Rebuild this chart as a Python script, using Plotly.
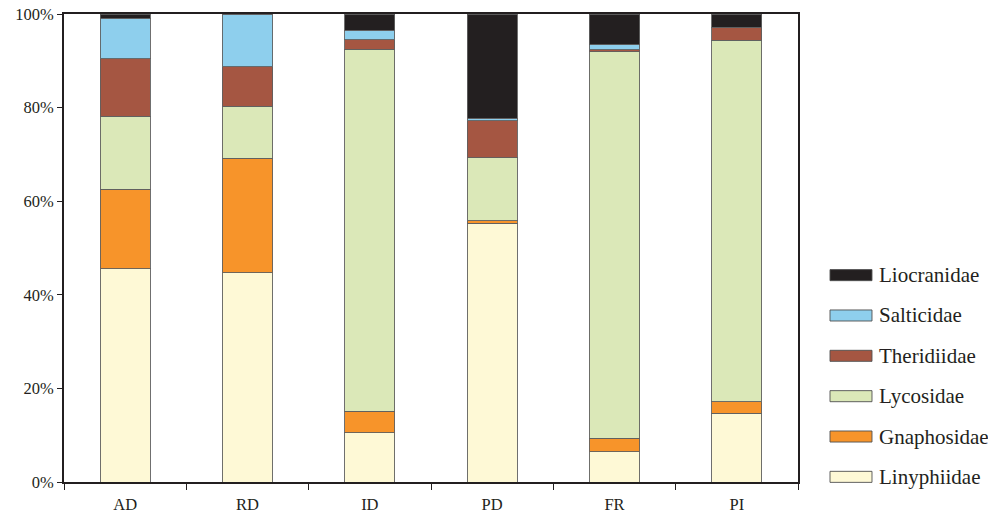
import plotly.graph_objects as go

sites = ["AD", "RD", "ID", "PD", "FR", "PI"]

# percentage of each family per site (stack order bottom -> top)
linyphiidae = [45.6, 44.7, 10.5, 55.3, 6.5, 14.7]
gnaphosidae = [17.0, 24.5, 4.6, 0.5, 2.8, 2.5]
lycosidae = [15.6, 11.1, 77.4, 13.5, 82.6, 77.2]
theridiidae = [12.2, 8.4, 2.0, 7.9, 0.5, 2.8]
salticidae = [8.7, 11.3, 2.0, 0.5, 1.0, 0.0]
liocranidae = [0.9, 0.0, 3.5, 22.3, 6.6, 2.8]

families = ["Linyphiidae", "Gnaphosidae", "Lycosidae", "Theridiidae", "Salticidae", "Liocranidae"]
values = [linyphiidae, gnaphosidae, lycosidae, theridiidae, salticidae, liocranidae]
colors = ["#fef9d6", "#f7942a", "#dbe8b8", "#a55642", "#8ecfed", "#231f20"]

FONT = "Times New Roman, Liberation Serif, serif"

fig = go.Figure()
for name, vals, col in zip(families, values, colors):
    fig.add_trace(go.Bar(
        x=sites, y=vals, name=name,
        marker=dict(color=col, line=dict(color="rgba(95,95,95,0.9)", width=1)),
        showlegend=False,
    ))

# legend drawn as swatches + labels on the right, top entry = top of stack
legend_top = 0.442
step = 0.0862
for i, (name, col) in enumerate(zip(families[::-1], colors[::-1])):
    yc = legend_top - i * step
    fig.add_shape(type="rect", xref="paper", yref="paper",
                  x0=1.0436, x1=1.1008, y0=yc - 0.0118, y1=yc + 0.0118,
                  fillcolor=col, line=dict(color="rgba(80,80,80,0.9)", width=1))
    fig.add_annotation(xref="paper", yref="paper", x=1.107, y=yc, text=name,
                       showarrow=False, xanchor="left", yanchor="middle",
                       font=dict(family=FONT, size=21, color="#231f20"))

fig.update_layout(
    barmode="stack",
    bargap=0.59,
    width=988, height=516,
    margin=dict(l=64, r=190, t=14, b=34, autoexpand=False),
    plot_bgcolor="white", paper_bgcolor="white",
    font=dict(family=FONT, size=16.5, color="#231f20"),
    xaxis=dict(
        showline=True, linecolor="#231f20", linewidth=2, mirror=True,
        ticks="outside", tickson="boundaries", ticklen=6, tickcolor="#231f20",
        tickwidth=1, showgrid=False, automargin=False, ticklabelstandoff=6,
        tickfont=dict(size=16.5),
    ),
    yaxis=dict(
        range=[0, 100], dtick=20, ticksuffix="%",
        showline=True, linecolor="#231f20", linewidth=2, mirror=True,
        ticks="outside", ticklen=5, tickcolor="#231f20", tickwidth=1,
        showgrid=False, zeroline=False, automargin=False,
    ),
)

fig.write_html("out.html")
